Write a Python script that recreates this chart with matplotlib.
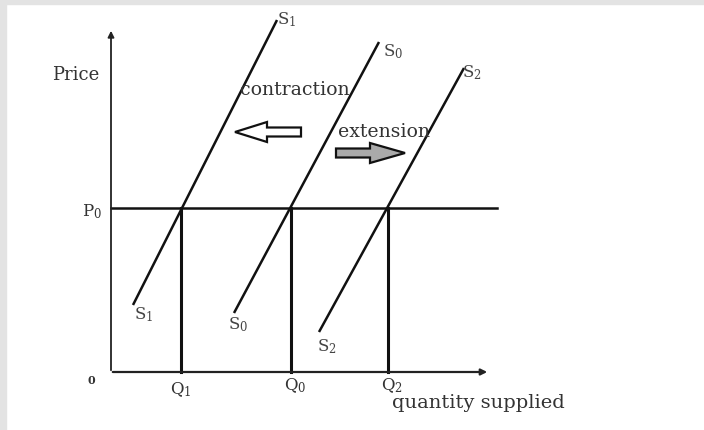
import matplotlib
matplotlib.use("Agg")
import matplotlib.pyplot as plt
from matplotlib.patches import Rectangle, FancyArrow

plt.rcParams['font.family'] = ['DejaVu Serif']
plt.rcParams['mathtext.fontset'] = 'custom'
plt.rcParams['mathtext.rm'] = 'DejaVu Serif'
plt.rcParams['mathtext.it'] = 'DejaVu Serif'

# supply curves: (quantity, price) at the two ends
curve_names = ['1', '0', '2']
curve_q = [[22, 166], [123, 268], [208, 353]]
curve_p = [[67, 352], [59, 330], [40, 304]]

# equilibrium price and quantities
p0 = 164
q_names = ['1', '0', '2']
q_values = [70, 180, 277]

q_max = 379
p_max = 344

fig = plt.figure(figsize=(7.04, 4.30), dpi=100)
ax = fig.add_axes([0, 0, 1, 1])
ax.set_xlim(-111, 593)
ax.set_ylim(-58, 372)
ax.axis('off')

# light grey frame on the top and left edge
fig.patches.append(Rectangle((0, 0), 5.5 / 704, 1, transform=fig.transFigure, color='#e3e3e3', zorder=0))
fig.patches.append(Rectangle((0, 1 - 4 / 430), 1, 4 / 430, transform=fig.transFigure, color='#e3e3e3', zorder=0))

# axes with arrow heads
ax.annotate('', xy=(0, p_max), xytext=(0, -1),
            arrowprops=dict(arrowstyle='-|>', lw=1.3, color='#222222', mutation_scale=9))
ax.annotate('', xy=(q_max, 0), xytext=(-1, 0),
            arrowprops=dict(arrowstyle='-|>', lw=1.6, color='#222222', mutation_scale=9))

# price line and quantity drops
ax.plot([0, 386], [p0, p0], color='#111111', lw=1.8)
for q in q_values:
    ax.plot([q, q], [0, p0], color='#111111', lw=2.2)

# supply curves
for qs, ps in zip(curve_q, curve_p):
    ax.plot(qs, ps, color='#111111', lw=1.8, solid_capstyle='butt')

# curve labels
top_off = [(10, 0), (14, -10), (8, -5)]
bot_off = [(11, -10), (4, -12), (8, -15)]
for name, qs, ps, to, bo in zip(curve_names, curve_q, curve_p, top_off, bot_off):
    ax.text(qs[1] + to[0], ps[1] + to[1], r'$\mathrm{S}_{%s}$' % name, fontsize=12,
            color='#444444', ha='center', va='center')
    ax.text(qs[0] + bo[0], ps[0] + bo[1], r'$\mathrm{S}_{%s}$' % name, fontsize=12,
            color='#444444', ha='center', va='center')

for name, q in zip(q_names, q_values):
    ax.text(q + (0 if name == '1' else 4), -18 if name == '1' else -14, r'$\mathrm{Q}_{%s}$' % name,
            fontsize=12, color='#333333', ha='center', va='center')

ax.text(-20, -8, '0', fontsize=8, fontweight='bold', color='#333333', ha='center', va='center')
ax.text(-19, p0 - 4, r'$\mathrm{P}_{0}$', fontsize=12, color='#333333', ha='center', va='center')
ax.text(-35, 297, 'Price', fontsize=13, color='#333333', ha='center', va='center')
ax.text(281, -31, 'quantity supplied', fontsize=14, color='#333333', ha='left', va='center')

ax.text(129, 282, 'contraction', fontsize=13.6, color='#333333', ha='left', va='center')
ax.text(227, 240, 'extension', fontsize=13.6, color='#333333', ha='left', va='center')

# shift arrows
ax.add_patch(FancyArrow(190, 240, -66, 0, width=9, head_width=20, head_length=32,
                        length_includes_head=True, facecolor='white', edgecolor='#111111', lw=1.6))
ax.add_patch(FancyArrow(225, 219, 69, 0, width=9, head_width=20, head_length=35,
                        length_includes_head=True, facecolor='#aaaaaa', edgecolor='#111111', lw=1.6))

fig.savefig('out.png', dpi=100)
